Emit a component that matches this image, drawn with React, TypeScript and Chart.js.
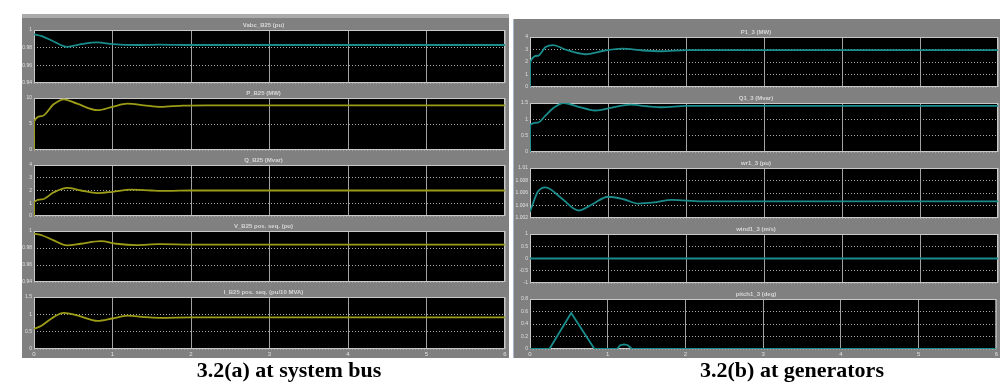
import React, { useEffect, useRef } from "react";
import { Chart, registerables } from "chart.js";

Chart.register(...registerables);

// ---------- data ----------
const timeTicks = [0, 1, 2, 3, 4, 5, 6];

// Left panel: system bus
const vabcT = [0, 0.1, 0.25, 0.42, 0.6, 0.81, 1.0, 1.3, 1.6, 2.0, 6];
const vabcV = [0.995, 0.993, 0.987, 0.981, 0.984, 0.986, 0.984, 0.983, 0.9835, 0.983, 0.983];

const pBusT = [0, 0.002, 0.1, 0.25, 0.38, 0.55, 0.81, 1.0, 1.19, 1.4, 1.61, 1.9, 2.2, 6];
const pBusV = [0, 5.5, 6.5, 8.8, 9.75, 8.9, 7.65, 8.3, 8.9, 8.6, 8.3, 8.55, 8.6, 8.6];

const qBusT = [0, 0.002, 0.1, 0.25, 0.42, 0.6, 0.81, 1.0, 1.23, 1.5, 1.7, 2.0, 6];
const qBusV = [0, 1.1, 1.3, 1.85, 2.2, 2.0, 1.8, 1.9, 2.07, 2.0, 1.97, 2.0, 2.0];

const vPosT = [0, 0.1, 0.25, 0.42, 0.6, 0.85, 1.05, 1.3, 1.6, 2.0, 6];
const vPosV = [0.997, 0.995, 0.989, 0.983, 0.985, 0.988, 0.985, 0.9835, 0.9845, 0.984, 0.984];

const iPosT = [0, 0.1, 0.25, 0.38, 0.55, 0.81, 1.0, 1.19, 1.4, 1.6, 2.0, 6];
const iPosV = [0.58, 0.68, 0.92, 1.04, 0.97, 0.81, 0.88, 0.96, 0.92, 0.9, 0.91, 0.91];

// Right panel: generators
const pGenT = [0, 0.002, 0.1, 0.2, 0.3, 0.45, 0.71, 0.95, 1.18, 1.45, 1.69, 2.0, 6];
const pGenV = [0, 1.95, 2.5, 3.2, 3.35, 3.0, 2.62, 2.9, 3.07, 2.92, 2.86, 2.95, 2.95];

const qGenT = [0, 0.002, 0.1, 0.2, 0.3, 0.43, 0.6, 0.84, 1.05, 1.29, 1.5, 1.69, 2.0, 6];
const qGenV = [0, 0.83, 0.9, 1.12, 1.35, 1.5, 1.4, 1.27, 1.36, 1.45, 1.4, 1.37, 1.41, 1.41];

const wrT = [0, 0.1, 0.2, 0.4, 0.62, 0.8, 1.0, 1.2, 1.39, 1.6, 1.82, 2.2, 6];
const wrV = [1.003, 1.0062, 1.0069, 1.0052, 1.0032, 1.0042, 1.0054, 1.005, 1.0043, 1.0045, 1.0049, 1.00465, 1.00465];

const windT = [0, 6];
const windV = [0, 0];

const pitchT = [0, 0.25, 0.53, 0.83, 1.12, 1.16, 1.21, 1.26, 1.31, 6];
const pitchV = [0, 0, 0.576, 0, 0, 0.06, 0.075, 0.06, 0, 0];

// y tick values / labels
const vTicks = [0.94, 0.96, 0.98, 1];
const vLabels = ["0.94", "0.96", "0.98", "1"];
const pBusTicks = [0, 5, 10];
const pBusLabels = ["0", "5", "10"];
const zeroToFourTicks = [0, 1, 2, 3, 4];
const zeroToFourLabels = ["0", "1", "2", "3", "4"];
const iTicks = [0, 0.5, 1, 1.5];
const iLabels = ["0", "0.5", "1", "1.5"];
const wrTicks = [1.002, 1.004, 1.006, 1.008, 1.01];
const wrLabels = ["1.002", "1.004", "1.006", "1.008", "1.01"];
const windTicks = [-1, -0.5, 0, 0.5, 1];
const windLabels = ["-1", "-0.5", "0", "0.5", "1"];
const pitchTicks = [0, 0.2, 0.4, 0.6, 0.8];
const pitchLabels = ["0", "0.2", "0.4", "0.6", "0.8"];

const TEAL = "#1b8c8c";
const OLIVE = "#9c9c18";

type Sub = {
  title: string;
  t: number[];
  v: number[];
  ticks: number[];
  labels: string[];
  color: string;
  top: number;
  bottom: number;
  smooth: boolean;
};

const leftSubs: Sub[] = [
  { title: "Vabc_B25 (pu)", t: vabcT, v: vabcV, ticks: vTicks, labels: vLabels, color: TEAL, top: 30, bottom: 83, smooth: true },
  { title: "P_B25 (MW)", t: pBusT, v: pBusV, ticks: pBusTicks, labels: pBusLabels, color: OLIVE, top: 98, bottom: 150, smooth: true },
  { title: "Q_B25 (Mvar)", t: qBusT, v: qBusV, ticks: zeroToFourTicks, labels: zeroToFourLabels, color: OLIVE, top: 165, bottom: 216, smooth: true },
  { title: "V_B25 pos. seq. (pu)", t: vPosT, v: vPosV, ticks: vTicks, labels: vLabels, color: OLIVE, top: 231, bottom: 282, smooth: true },
  { title: "I_B25 pos. seq. (pu/10 MVA)", t: iPosT, v: iPosV, ticks: iTicks, labels: iLabels, color: OLIVE, top: 297, bottom: 349, smooth: true },
];

const rightSubs: Sub[] = [
  { title: "P1_3 (MW)", t: pGenT, v: pGenV, ticks: zeroToFourTicks, labels: zeroToFourLabels, color: TEAL, top: 37, bottom: 87, smooth: true },
  { title: "Q1_3 (Mvar)", t: qGenT, v: qGenV, ticks: iTicks, labels: iLabels, color: TEAL, top: 103, bottom: 152, smooth: true },
  { title: "wr1_3 (pu)", t: wrT, v: wrV, ticks: wrTicks, labels: wrLabels, color: TEAL, top: 168, bottom: 218, smooth: true },
  { title: "wind1_3 (m/s)", t: windT, v: windV, ticks: windTicks, labels: windLabels, color: TEAL, top: 234, bottom: 283, smooth: false },
  { title: "pitch1_3 (deg)", t: pitchT, v: pitchV, ticks: pitchTicks, labels: pitchLabels, color: TEAL, top: 299, bottom: 349, smooth: false },
];

const TITLE_H = 14;

const scopePlugin = {
  id: "scopeBg",
  beforeDraw(chart: any) {
    const { ctx, chartArea: a } = chart;
    ctx.save();
    ctx.fillStyle = "#000000";
    ctx.fillRect(a.left, a.top, a.right - a.left, a.bottom - a.top);
    ctx.restore();
  },
  beforeDatasetsDraw(chart: any) {
    const { ctx, chartArea: a } = chart;
    ctx.save();
    ctx.strokeStyle = "#c8c8c8";
    ctx.lineWidth = 1;
    ctx.strokeRect(a.left + 0.5, a.top + 0.5, a.right - a.left - 1, a.bottom - a.top - 1);
    ctx.restore();
  },
};

function Scope(props: { sub: Sub; left: number; width: number; yW: number; padRight: number; showX: boolean }) {
  const ref = useRef<HTMLCanvasElement>(null);
  const { sub, left, width, yW, padRight, showX } = props;
  const xh = showX ? 10 : 5;
  const height = TITLE_H + (sub.bottom - sub.top) + xh;
  const top = sub.top - TITLE_H;

  useEffect(() => {
    if (!ref.current) return;
    const chart = new Chart(ref.current, {
      type: "line",
      data: {
        datasets: [
          {
            data: sub.t.map((x, i) => ({ x, y: sub.v[i] })),
            borderColor: sub.color,
            borderWidth: 1.8,
            pointRadius: 0,
            fill: false,
            tension: 0,
            cubicInterpolationMode: sub.smooth ? "monotone" : "default",
          } as any,
        ],
      },
      options: {
        animation: false,
        responsive: false,
        devicePixelRatio: 1,
        layout: { padding: { left: 0, right: padRight, top: 0, bottom: 0 } },
        plugins: {
          legend: { display: false },
          tooltip: { enabled: false },
          title: {
            display: true,
            text: sub.title,
            color: "#d6d6d6",
            font: { size: 6, family: "'Liberation Sans', Arial, sans-serif", lineHeight: "7px" } as any,
            padding: { top: 6, bottom: 1 },
          },
        },
        scales: {
          x: {
            type: "linear",
            min: 0,
            max: 6,
            afterBuildTicks: (s: any) => {
              s.ticks = timeTicks.map((value) => ({ value }));
            },
            afterFit: (s: any) => {
              s.height = xh;
            },
            ticks: {
              display: showX,
              color: "#e0e0e0",
              font: { size: 6, family: "'Liberation Sans', Arial, sans-serif" },
              padding: 2,
              maxRotation: 0,
              autoSkip: false,
            },
            grid: { color: "#a2a2a2", lineWidth: 1, drawTicks: false },
            border: { display: false },
          },
          y: {
            type: "linear",
            min: sub.ticks[0],
            max: sub.ticks[sub.ticks.length - 1],
            afterBuildTicks: (s: any) => {
              s.ticks = sub.ticks.map((value) => ({ value }));
            },
            afterFit: (s: any) => {
              s.width = yW;
            },
            ticks: {
              color: "#e0e0e0",
              font: { size: 5, family: "'Liberation Sans', Arial, sans-serif" },
              padding: 2,
              autoSkip: false,
              callback: (_v: any, i: number) => sub.labels[i],
            },
            grid: { color: "#a8a8a8", lineWidth: 1, drawTicks: false },
            border: { display: false, dash: [1, 2] },
          },
        },
      } as any,
      plugins: [scopePlugin],
    });
    return () => chart.destroy();
  }, []);

  return (
    <canvas
      ref={ref}
      width={width}
      height={height}
      style={{ position: "absolute", left, top, width, height }}
    />
  );
}

const captionStyle: React.CSSProperties = {
  position: "absolute",
  top: 359,
  transform: "translateX(-50%)",
  font: "bold 22px 'Liberation Serif', 'Times New Roman', serif",
  lineHeight: "22px",
  whiteSpace: "nowrap",
  color: "#000",
};

export default function App() {
  return (
    <div style={{ position: "absolute", left: 0, top: 0, width: 1004, height: 385, background: "#ffffff", overflow: "hidden" }}>
      {/* left panel */}
      <div style={{ position: "absolute", left: 22, top: 14, width: 487, height: 4, background: "#ababab" }} />
      <div style={{ position: "absolute", left: 22, top: 18, width: 487, height: 340, background: "#808080" }} />
      {/* right panel */}
      <div style={{ position: "absolute", left: 513, top: 19, width: 1, height: 339, background: "#a6b6cc" }} />
      <div style={{ position: "absolute", left: 514, top: 19, width: 486, height: 339, background: "#808080" }} />

      {leftSubs.map((s, i) => (
        <Scope key={"l" + i} sub={s} left={22} width={487} yW={12} padRight={4} showX={i === leftSubs.length - 1} />
      ))}
      {rightSubs.map((s, i) => (
        <Scope key={"r" + i} sub={s} left={514} width={486} yW={16} padRight={2} showX={i === rightSubs.length - 1} />
      ))}

      <div style={{ ...captionStyle, left: 289 }}>3.2(a) at system bus</div>
      <div style={{ ...captionStyle, left: 792 }}>3.2(b) at generators</div>
    </div>
  );
}
